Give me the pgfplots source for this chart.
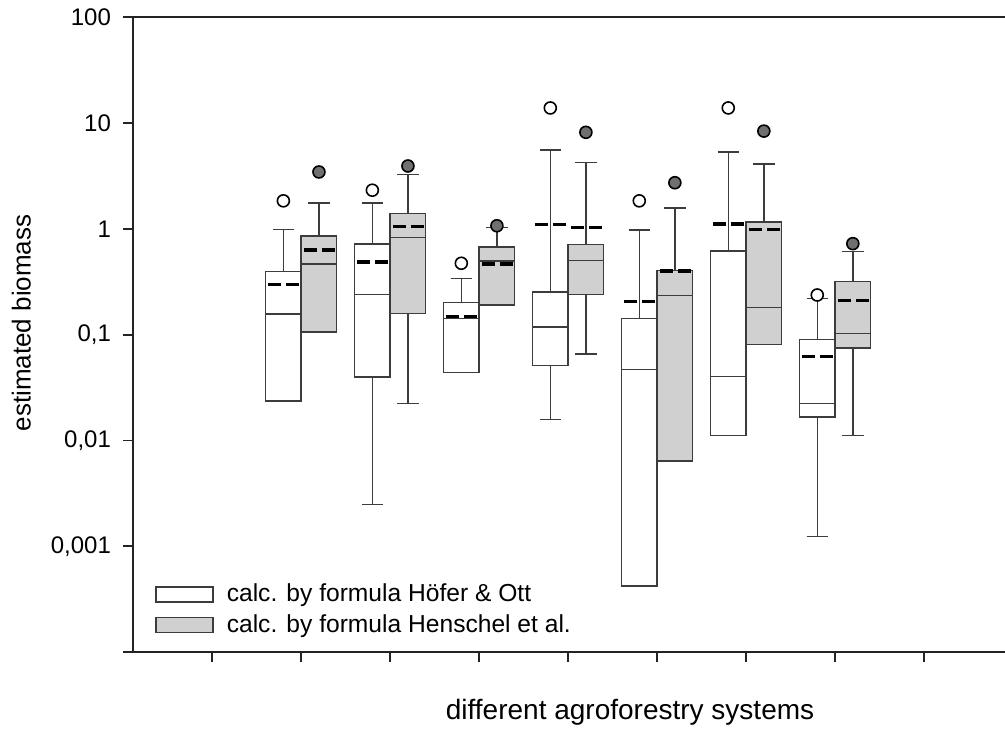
\documentclass[border=0pt]{standalone}
\usepackage{fontspec}
\setmainfont{Liberation Sans}
\usepackage{pgfplots}
\pgfplotsset{compat=1.18}
\usepgfplotslibrary{statistics}

\definecolor{boxgray}{RGB}{208,208,208}
\definecolor{dotgray}{RGB}{112,112,112}
\definecolor{axisgray}{RGB}{35,35,35}
\definecolor{linegray}{RGB}{60,60,60}

\pgfplotsset{
  whitebox/.style={draw=linegray, line width=0.7pt, fill=white, forget plot},
  greybox/.style={draw=linegray, line width=0.7pt, fill=boxgray, forget plot},
  meanline/.style={only marks, mark=-, mark size=9pt, forget plot,
    mark options={draw=black, line width=1.6pt,
      dash pattern=on 6.5pt off 2.5pt on 6.5pt off 2.5pt, dash phase=17pt}},
}

\begin{document}
\begin{tikzpicture}[font=\fontsize{12}{14}\selectfont]
\useasboundingbox (-66.5pt,-38pt) rectangle (436pt,326pt);
\begin{axis}[
    at={(0,0)}, anchor=south west,
    scale only axis,
    width=436pt, height=317.35pt,
    xmin=0.11, xmax=9.91,
    ymode=log, ymin=1e-4, ymax=100,
    axis x line*=box, axis y line*=left,
    axis line style={-, line width=1pt, color=axisgray},
    xtick={1,...,9}, xticklabels={},
    xtick pos=left,
    ytick={1e-4,1e-3,0.01,0.1,1,10,100},
    yticklabels={,{0,001},{0,01},{0,1},1,10,100},
    yminorticks=false,
    tick align=outside,
    major tick length=5pt,
    tick style={line width=0.9pt, color=axisgray},
    yticklabel style={font=\fontsize{12}{14}\selectfont, xshift=-2.5pt},
    xlabel={different agroforestry systems},
    xlabel style={at={(axis description cs:0.570,-0.1071)}, anchor=base,
        font=\fontsize{14}{16}\selectfont},
    ylabel={estimated biomass},
    ylabel style={at={(axis description cs:-0.128,0.5184)}, anchor=center,
        font=\fontsize{13}{15}\selectfont},
    clip=false,
    boxplot/draw direction=y,
    boxplot/box extend=0.4,
    boxplot/whisker extend=0.24,
    legend style={draw=none, fill=none, at={(axis description cs:0.0252,0.0666)},
        anchor=west, inner sep=0pt, row sep=1pt, column sep=4.5pt,
        font=\fontsize{12.3}{14}\selectfont},
    legend cell align=left,
    legend image code/.code={\draw[#1] (0pt,-3.75pt) rectangle (28.5pt,3.75pt);},
]
% calc. by formula Hoefer & Ott (white)
\addplot[whitebox, boxplot prepared={draw position=1.8, lower whisker=0.0236, lower quartile=0.0236, median=0.157, upper quartile=0.394, upper whisker=0.98}] coordinates {};
\addplot[whitebox, boxplot prepared={draw position=2.8, lower whisker=0.00247, lower quartile=0.0398, median=0.241, upper quartile=0.72, upper whisker=1.75}] coordinates {};
\addplot[whitebox, boxplot prepared={draw position=3.8, lower whisker=0.0437, lower quartile=0.0437, median=0.142, upper quartile=0.201, upper whisker=0.339}] coordinates {};
\addplot[whitebox, boxplot prepared={draw position=4.8, lower whisker=0.0158, lower quartile=0.051, median=0.118, upper quartile=0.253, upper whisker=5.57}] coordinates {};
\addplot[whitebox, boxplot prepared={draw position=5.8, lower whisker=0.000421, lower quartile=0.000421, median=0.0467, upper quartile=0.143, upper whisker=0.977}] coordinates {};
\addplot[whitebox, boxplot prepared={draw position=6.8, lower whisker=0.0112, lower quartile=0.0112, median=0.0404, upper quartile=0.618, upper whisker=5.33}] coordinates {};
\addplot[whitebox, boxplot prepared={draw position=7.8, lower whisker=0.00123, lower quartile=0.0166, median=0.0223, upper quartile=0.0897, upper whisker=0.221}] coordinates {};
% calc. by formula Henschel et al. (grey)
\addplot[greybox, boxplot prepared={draw position=2.2, lower whisker=0.106, lower quartile=0.106, median=0.466, upper quartile=0.857, upper whisker=1.75}] coordinates {};
\addplot[greybox, boxplot prepared={draw position=3.2, lower whisker=0.0224, lower quartile=0.159, median=0.833, upper quartile=1.40, upper whisker=3.25}] coordinates {};
\addplot[greybox, boxplot prepared={draw position=4.2, lower whisker=0.19, lower quartile=0.19, median=0.499, upper quartile=0.675, upper whisker=1.03}] coordinates {};
\addplot[greybox, boxplot prepared={draw position=5.2, lower whisker=0.0657, lower quartile=0.241, median=0.505, upper quartile=0.709, upper whisker=4.22}] coordinates {};
\addplot[greybox, boxplot prepared={draw position=6.2, lower whisker=0.0064, lower quartile=0.0064, median=0.236, upper quartile=0.403, upper whisker=1.58}] coordinates {};
\addplot[greybox, boxplot prepared={draw position=7.2, lower whisker=0.081, lower quartile=0.081, median=0.18, upper quartile=1.16, upper whisker=4.1}] coordinates {};
\addplot[greybox, boxplot prepared={draw position=8.2, lower whisker=0.0112, lower quartile=0.0748, median=0.103, upper quartile=0.317, upper whisker=0.61}] coordinates {};
% means (dashed)
\addplot[meanline] coordinates {(1.8,0.30) (2.8,0.486) (3.8,0.148) (4.8,1.10) (5.8,0.205) (6.8,1.11) (7.8,0.0625)};
\addplot[meanline] coordinates {(2.2,0.632) (3.2,1.05) (4.2,0.466) (5.2,1.035) (6.2,0.40) (7.2,0.98) (8.2,0.211)};
% outliers
\addplot[only marks, mark=*, mark size=3pt, forget plot,
  mark options={draw=black, fill=white, line width=0.8pt}]
  coordinates {(1.8,1.84) (2.8,2.32) (3.8,0.473) (4.8,13.9) (5.8,1.84) (6.8,13.9) (7.8,0.237)};
\addplot[only marks, mark=*, mark size=3pt, forget plot,
  mark options={draw=black, fill=dotgray, line width=0.8pt}]
  coordinates {(2.2,3.45) (3.2,3.93) (4.2,1.07) (5.2,8.18) (6.2,2.73) (7.2,8.4) (8.2,0.725)};
\addlegendimage{draw=linegray, line width=0.7pt, fill=white}
\addlegendentry{calc. by formula Höfer \& Ott}
\addlegendimage{draw=linegray, line width=0.7pt, fill=boxgray}
\addlegendentry{calc. by formula Henschel et al.}
\end{axis}
\end{tikzpicture}
\end{document}
